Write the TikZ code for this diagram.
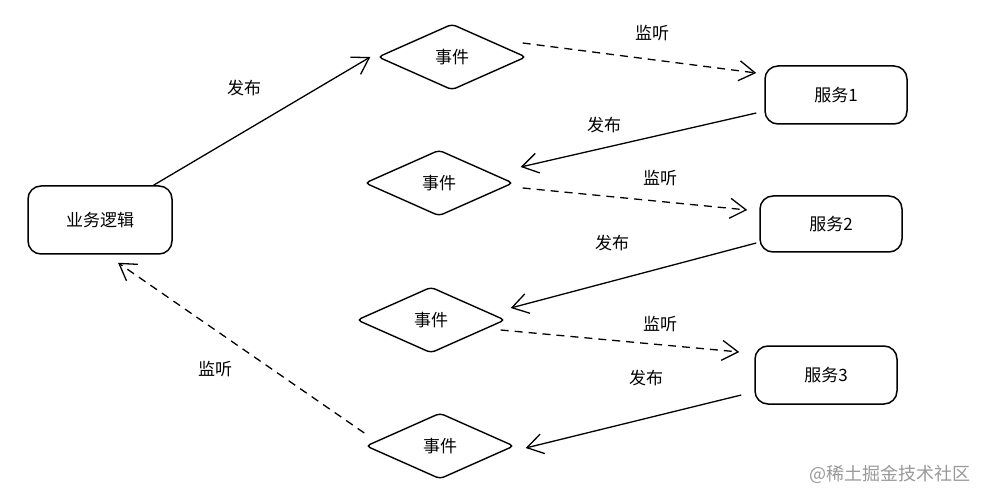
\documentclass[tikz,border=0pt]{standalone}
\usepackage{fontspec}
\newfontfamily\cjk{Noto Sans CJK SC}
\usetikzlibrary{shapes.geometric,arrows.meta,calc}
\begin{document}
\begin{tikzpicture}[x=1pt,y=-1pt,
  font=\cjk\fontsize{17}{19}\selectfont,
  box/.style={draw,line width=1.5pt,rounded corners=13pt,inner sep=0pt},
  evt/.style={draw,diamond,line width=1.4pt,rounded corners=4pt,inner sep=0pt,minimum width=148pt,minimum height=66pt},
  pub/.style={line width=1.3pt,-{Straight Barb[length=16pt,width=20pt,line width=1.3pt]}},
  lis/.style={line width=1.3pt,dash pattern=on 8pt off 6pt,-{Straight Barb[length=16pt,width=20pt,line width=1.3pt]}},
  lbl/.style={inner sep=1pt}]
\useasboundingbox (0,0) rectangle (987,502);
\fill[white] (0,0) rectangle (987,502);
\node[box,minimum width=144pt,minimum height=68pt] (biz) at (100,220) {业务逻辑};
\node[evt] (d1) at (452,57) {事件};
\node[box,minimum width=142pt,minimum height=58pt] (s1) at (836,95) {服务1};
\node[evt] (d2) at (439,183) {事件};
\node[box,minimum width=142pt,minimum height=56pt] (s2) at (831,224) {服务2};
\node[evt] (d3) at (431,320) {事件};
\node[box,minimum width=142pt,minimum height=58pt] (s3) at (826,375) {服务3};
\node[evt] (d4) at (440,446) {事件};

\draw[pub] (biz.33) -- ($(d1.west)+(-7,0)$);
\node[lbl] (l1) at (244,88) {发布};
\draw[lis] ($(d1.east)+(-4,-14)$) -- ($(s1.west)+(-8,-22)$);
\node[lbl] (l2) at (652,33) {监听};
\draw[pub] ($(s1.west)+(-8,18)$) -- ($(d2.east)+(7,-16)$);
\node[lbl] (l3) at (604,125) {发布};
\draw[lis] ($(d2.east)+(9,5)$) -- ($(s2.west)+(-12,-14)$);
\node[lbl] (l4) at (660,178) {监听};
\draw[pub] ($(s2.west)+(-3,19)$) -- ($(d3.east)+(5,-12)$);
\node[lbl] (l5) at (612,243) {发布};
\draw[lis] ($(d3.east)+(-5,10)$) -- ($(s3.west)+(-15,-23)$);
\node[lbl] (l6) at (660,324) {监听};
\draw[pub] ($(s3.west)+(-13,20)$) -- ($(d4.east)+(11,2)$);
\node[lbl] (l7) at (646,378) {发布};
\draw[lis] ($(d4.west)+(-1,-13)$) -- ($(biz.south)+(18,8)$);
\node[lbl] (l8) at (215,369) {监听};

\node[text=black!40,font=\cjk\fontsize{18}{20}\selectfont] (wm) at (890,474) {@稀土掘金技术社区};
\end{tikzpicture}
\end{document}
